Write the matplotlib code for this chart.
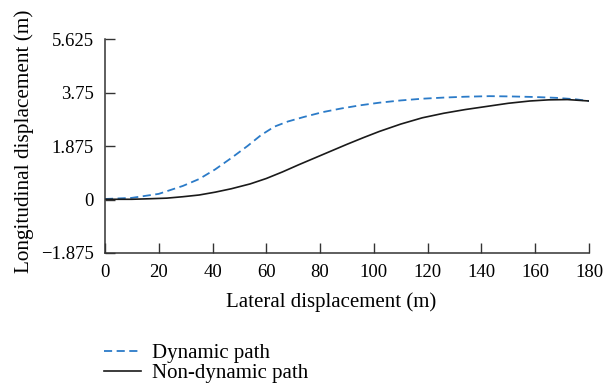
import numpy as np
import matplotlib.pyplot as plt

plt.rcParams["font.family"] = ["Liberation Serif", "DejaVu Serif"]

# ── Data ──────────────────────────────────────────────────────────────────────
dyn_x = [0, 10, 20, 29, 35, 41, 47, 53, 58, 63, 68, 74, 81, 88, 95, 102,
         110, 118, 126, 134, 143, 151, 160, 168, 175, 180]
dyn_y = [0.02, 0.06, 0.20, 0.48, 0.72, 1.06, 1.46, 1.88, 2.26, 2.56, 2.74,
         2.90, 3.07, 3.20, 3.31, 3.40, 3.48, 3.54, 3.58, 3.61, 3.63, 3.62,
         3.60, 3.57, 3.52, 3.46]

non_x = [0, 10, 17, 23, 29, 35, 41, 47, 54, 60, 66, 72, 78, 84, 90, 96, 102,
         110, 118, 126, 134, 142, 150, 158, 165, 172, 180]
non_y = [0.01, 0.01, 0.03, 0.05, 0.10, 0.16, 0.26, 0.38, 0.55, 0.74, 0.97,
         1.22, 1.46, 1.70, 1.94, 2.17, 2.39, 2.65, 2.87, 3.03, 3.16, 3.27,
         3.38, 3.46, 3.50, 3.51, 3.46]

x_ticks = [0, 20, 40, 60, 80, 100, 120, 140, 160, 180]
y_ticks = [-1.875, 0, 1.875, 3.75, 5.625]
y_tick_labels = ["\u22121.875", "0", "1.875", "3.75", "5.625"]

C_BLUE = "#2b7bc8"
C_BLACK = "#1a1a1a"
C_AXIS = "#333333"

fig = plt.figure(figsize=(6.11, 3.87), dpi=100)
ax = fig.add_axes([0.1718, 0.3463, 0.7922, 0.5521])

ax.plot(dyn_x, dyn_y, color=C_BLUE, linewidth=1.3, linestyle=(0, (4.5, 2.5)),
        label="Dynamic path")
ax.plot(non_x, non_y, color=C_BLACK, linewidth=1.2, label="Non-dynamic path")

ax.set_xlim(0, 180)
ax.set_ylim(-1.875, 5.625)
ax.set_xticks(x_ticks)
ax.set_yticks(y_ticks)
ax.set_yticklabels(y_tick_labels)
ax.tick_params(direction="in", length=7.5, width=1.0, color=C_AXIS,
               labelsize=13.5)
ax.tick_params(axis="x", pad=8)
ax.tick_params(axis="y", pad=8)
ax.spines[["top", "right"]].set_visible(False)
for s in ("left", "bottom"):
    ax.spines[s].set_color(C_AXIS)
    ax.spines[s].set_linewidth(1.1)

ax.set_xlabel("Lateral displacement (m)", fontsize=15, labelpad=8, x=0.467)
ax.set_ylabel("Longitudinal displacement (m)", fontsize=15.3, labelpad=5,
              y=0.523)

fig.legend(loc="upper left", bbox_to_anchor=(0.17, 0.112), frameon=False,
           fontsize=15, handlelength=1.8, handletextpad=0.5, labelspacing=0.0,
           borderpad=0, borderaxespad=0)

fig.savefig("out.png", dpi=100, facecolor="white")
